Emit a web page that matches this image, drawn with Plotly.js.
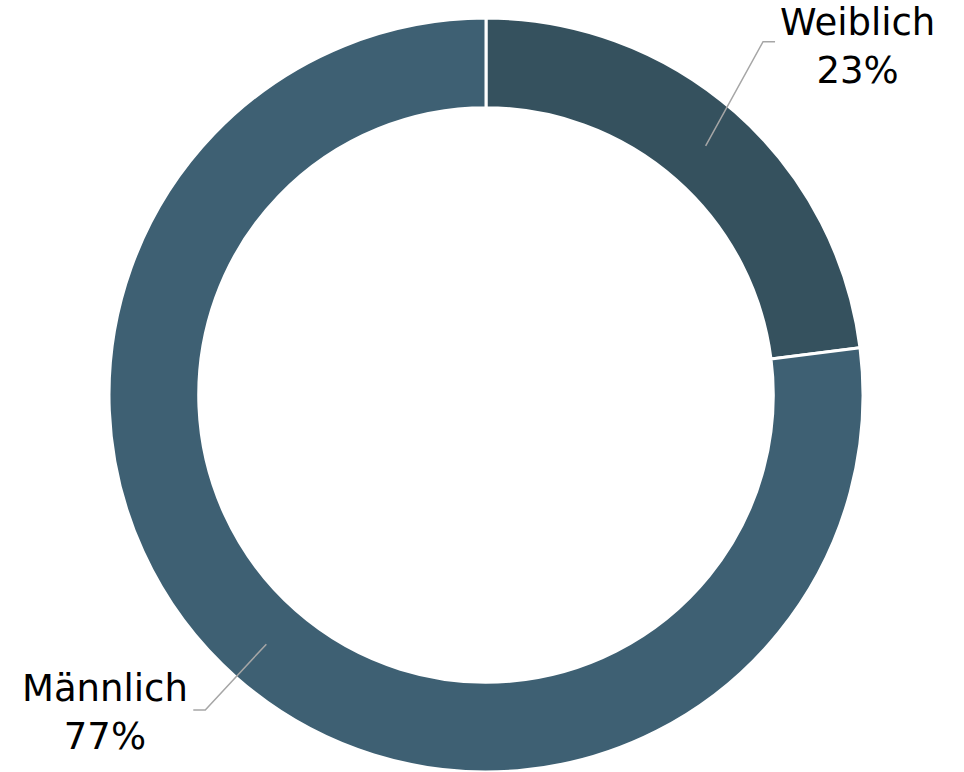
<!DOCTYPE html>
<html>
<head>
<meta charset="utf-8">
<script src="https://cdn.plot.ly/plotly-3.0.1.min.js"></script>
<style>html,body{margin:0;padding:0;background:#fff;}#chart{width:964px;height:772px;}</style>
</head>
<body>
<div id="chart"></div>
<script>
// Data
const categories = ["Weiblich", "Männlich"];
const values = [23, 77];
const sliceColors = ["#35515e", "#3e6073"];

// Layout constants (pixels)
const W = 964, H = 772;
const M = {l: 109, r: 101, t: 18, b: 0};
const plotW = W - M.l - M.r, plotH = H - M.t - M.b;
const R = Math.min(plotW, plotH) / 2;
const cx = M.l + plotW / 2, cy = M.t + plotH / 2;
const holeFrac = 0.762;
const rMid = R * (1 + holeFrac) / 2;
// label elbow placement per slice (style): distance from centre, angle nudge (deg), text shift (px)
const elbowR = [449, 422];
const elbowNudge = [-3.3, 0.3];
const textShift = [-5, -2];
const stub = 12;

function toPaper(px, py) {
  return [(px - M.l) / plotW, (H - M.b - py) / plotH];
}

const total = values.reduce((a, b) => a + b, 0);
const shapes = [], annotations = [];
let cum = 0;
values.forEach((v, i) => {
  const midDeg = (cum + v / 2) / total * 360;
  cum += v;
  const mid = midDeg * Math.PI / 180;
  const sx = cx + rMid * Math.sin(mid), sy = cy - rMid * Math.cos(mid);
  const ea = (midDeg + elbowNudge[i]) * Math.PI / 180;
  const ex = cx + elbowR[i] * Math.sin(ea), ey = cy - elbowR[i] * Math.cos(ea);
  const side = Math.sin(mid) >= 0 ? 1 : -1;
  const tx = ex + side * stub;
  const p0 = toPaper(sx, sy), p1 = toPaper(ex, ey), p2 = toPaper(tx, ey);
  shapes.push({
    type: "path", xref: "paper", yref: "paper",
    path: `M ${p0[0]} ${p0[1]} L ${p1[0]} ${p1[1]} L ${p2[0]} ${p2[1]}`,
    line: {color: "#a6a6a6", width: 1.5}
  });
  const pt = toPaper(tx + side * 4, ey);
  annotations.push({
    xref: "paper", yref: "paper", x: pt[0], y: pt[1],
    xanchor: side > 0 ? "left" : "right", yanchor: "middle",
    yshift: textShift[i], borderpad: 0,
    align: "center", showarrow: false,
    text: categories[i] + "<br>" + Math.round(v / total * 100) + "%",
    font: {family: "DejaVu Sans, Verdana, sans-serif", size: 37, color: "#000000"}
  });
});

const data = [{
  type: "pie",
  labels: categories,
  values: values,
  hole: holeFrac,
  sort: false,
  direction: "clockwise",
  rotation: 0,
  textinfo: "none",
  hoverinfo: "label+percent",
  marker: {colors: sliceColors, line: {color: "#ffffff", width: 3}},
  domain: {x: [0, 1], y: [0, 1]}
}];

const layout = {
  width: W, height: H,
  margin: M,
  showlegend: false,
  paper_bgcolor: "#ffffff",
  plot_bgcolor: "#ffffff",
  shapes: shapes,
  annotations: annotations
};

Plotly.newPlot("chart", data, layout, {displayModeBar: false, staticPlot: true});
</script>
</body>
</html>
